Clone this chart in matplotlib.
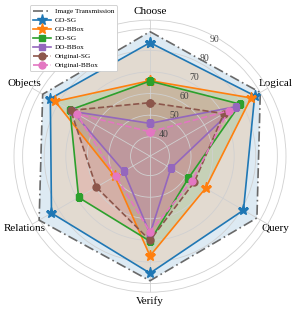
import numpy as np
import matplotlib
matplotlib.use('Agg')
from matplotlib import pyplot as plt

matplotlib.rcParams['font.family'] = ['Liberation Serif', 'DejaVu Serif']

categories = ['Choose', 'Logical', 'Query', 'Verify', 'Relations', 'Objects']

image_tx  = [88.7, 90.0, 88.2, 88.7, 90.3, 88.4]
go_sg     = [83.6, 87.0, 81.0, 85.2, 83.7, 84.3]
go_bbox   = [66.0, 85.0, 60.7, 77.2, 49.8, 81.7]
do_sg     = [65.8, 79.2, 51.5, 70.4, 69.2, 73.8]
do_bbox   = [46.2, 76.9, 42.2, 67.0, 45.0, 72.5]
orig_sg   = [55.8, 70.5, 54.8, 70.0, 59.7, 73.4]
orig_bbox = [42.3, 73.0, 53.6, 66.0, 49.4, 70.2]

rticks = [40, 50, 60, 70, 80, 90]

# label, values, line color, fill color, marker, linestyle
series = [
    ('Image Transmission', image_tx, 'dimgray', 'C0', None, (0, (6, 2, 1, 2))),
    ('GO-SG', go_sg, 'C0', 'C1', '*', '-'),
    ('GO-BBox', go_bbox, 'C1', 'C2', '*', '-'),
    ('DO-SG', do_sg, 'C2', 'C3', 's', '-'),
    ('DO-BBox', do_bbox, 'C4', 'C4', 's', '-'),
    ('Original-SG', orig_sg, 'C5', 'C5', 'o', '--'),
    ('Original-BBox', orig_bbox, 'C6', 'C6', 'o', '--'),
]

angles = np.linspace(0, 2*np.pi, len(categories), endpoint=False)
angles_c = np.concatenate([angles, angles[:1]])

fig = plt.figure(figsize=(2.99, 3.13), dpi=100)
ax = fig.add_axes([0.0468, 0.0665, 0.9097, 0.869], polar=True)
ax.set_theta_zero_location('N')
ax.set_theta_direction(-1)

for name, vals, col, fcol, mk, ls in series:
    v = np.concatenate([vals, vals[:1]])
    ms = 8 if mk == '*' else 5
    ax.plot(angles_c, v, color=col, lw=1.2, ls=ls, marker=mk, ms=ms, label=name)
    ax.fill(angles_c, v, color=fcol, alpha=0.15, lw=0)

ax.set_ylim(31, 94)
ax.set_yticks(rticks)
ax.set_yticklabels([str(t) for t in rticks], fontsize=7, color='#444444', rotation=-30)
ax.set_rlabel_position(28)
ax.set_xticks(angles)
ax.set_xticklabels(categories, fontsize=8)
ax.tick_params(axis='x', pad=-4)
ax.grid(color='#d0d0d0', lw=0.6)
ax.spines['polar'].set_color('#d0d0d0')
ax.spines['polar'].set_linewidth(0.6)

leg = fig.legend(loc='upper left', bbox_to_anchor=(0.088, 0.995), fontsize=5.2,
                 handlelength=2.4, labelspacing=0.4, borderpad=0.45,
                 handletextpad=0.6, framealpha=1, edgecolor='#cccccc')
leg.get_frame().set_linewidth(0.6)

fig.savefig('out.png', dpi=100)
